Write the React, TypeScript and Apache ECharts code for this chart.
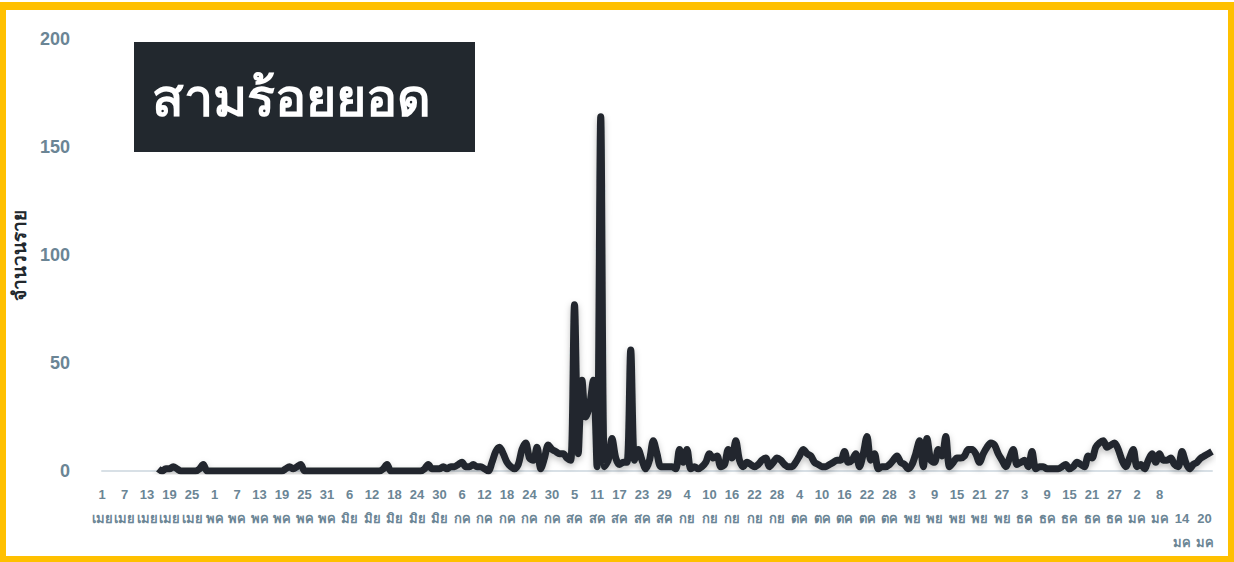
import React, { useEffect, useRef } from "react";
import * as echarts from "echarts";

const START_DAY_OFFSETS = [0, 30, 61, 91, 122, 153, 183, 214, 244, 275]; // first day index of each month
const MONTH_NAMES = ["เมย", "พค", "มิย", "กค", "สค", "กย", "ตค", "พย", "ธค", "มค"];
const MONTH_LENGTHS = [30, 31, 30, 31, 31, 30, 31, 30, 31, 31];
const DAY_COUNT = 297;

const values: (number | null)[] = [
  null, null, null, null, null, null, null, null, null, null, null, null, null, null, null,
  1, 0, 1, 1, 2, 1, 0, 0, 0, 0, 0, 1, 3, 0, 0,
  0, 0, 0, 0, 0, 0, 0, 0, 0, 0, 0, 0, 0, 0, 0,
  0, 0, 0, 0, 1, 2, 1, 2, 3, 0, 0, 0, 0, 0, 0,
  0, 0, 0, 0, 0, 0, 0, 0, 0, 0, 0, 0, 0, 0, 0,
  1, 3, 0, 0, 0, 0, 0, 0, 0, 0, 0, 1, 3, 1, 1,
  1, 2, 1, 2, 2, 3, 4, 2, 2, 3, 2, 2, 1, 0, 4,
  9, 11, 8, 4, 2, 1, 3, 10, 13, 6, 5, 11, 1, 6, 12,
  10, 9, 8, 8, 6, 5, 77, 8, 42, 25, 30, 42, 2, 164, 2,
  5, 15, 6, 3, 4, 4, 56, 5, 10, 5, 1, 5, 14, 8, 2,
  2, 2, 2, 1, 10, 4, 10, 1, 2, 1, 2, 4, 8, 6, 7,
  2, 3, 10, 6, 14, 5, 2, 4, 3, 2, 3, 5, 6, 2, 4,
  6, 5, 3, 2, 2, 4, 7, 10, 8, 7, 4, 3, 2, 2, 3,
  4, 5, 5, 9, 4, 5, 8, 2, 8, 16, 5, 8, 1, 2, 2,
  3, 5, 7, 4, 3, 1, 3, 8, 14, 2, 15, 5, 4, 10, 7,
  16, 2, 4, 6, 6, 7, 10, 10, 8, 4, 8, 11, 13, 12, 8,
  5, 2, 6, 10, 3, 4, 5, 2, 9, 1, 2, 2, 1, 1, 1,
  1, 2, 3, 1, 2, 4, 3, 2, 7, 6, 11, 13, 14, 11, 12,
  13, 10, 5, 2, 6, 10, 2, 3, 1, 5, 8, 4, 8, 5, 5,
  6, 3, 2, 9, 4, 1, 3, 4, 6, 7, 8, 9,
];

const Y_MIN = 0;
const Y_MAX = 200;
const Y_STEP = 50;
const TITLE = "สามร้อยยอด";
const Y_NAME = "จำนวนราย";
const SHIFTED_LABELS = ["14", "20"];

function buildCategories(): string[] {
  const cats: string[] = [];
  for (let i = 0; i < DAY_COUNT; i++) {
    let m = 0;
    for (let k = 0; k < START_DAY_OFFSETS.length; k++) {
      if (i >= START_DAY_OFFSETS[k]) m = k;
    }
    const day = i - START_DAY_OFFSETS[m] + 1;
    if (day <= MONTH_LENGTHS[m]) cats.push(day + " " + MONTH_NAMES[m]);
  }
  return cats;
}

const categories = buildCategories();

export default function App() {
  const ref = useRef<HTMLDivElement>(null);
  useEffect(() => {
    if (!ref.current) return;
    const chart = echarts.init(ref.current, null, { renderer: "svg" });
    const labelColor = "#6b8595";
    const dark = "#22282e";
    const yellow = "#ffc000";
    const font = "Liberation Sans, Arial, sans-serif";
    chart.setOption({
      animation: false,
      backgroundColor: "#ffffff",
      grid: { left: 102, right: 22, top: 39, bottom: 91, containLabel: false },
      xAxis: {
        type: "category",
        data: categories,
        boundaryGap: false,
        axisLine: { show: true, lineStyle: { color: "#d8e0e6", width: 2 } },
        axisTick: { show: false },
        splitLine: { show: false },
        axisLabel: {
          interval: 5,
          margin: 11,
          color: labelColor,
          fontSize: 13,
          fontWeight: "bold",
          fontFamily: font,
          lineHeight: 24,
          formatter: (v: string) => {
            const [d, m] = v.split(" ");
            if (m === "มค" && SHIFTED_LABELS.includes(d)) return "\n" + d + "\n" + m;
            return d + "\n" + m;
          },
        },
      },
      yAxis: {
        type: "value",
        min: Y_MIN,
        max: Y_MAX,
        interval: Y_STEP,
        name: Y_NAME,
        nameLocation: "middle",
        nameGap: 72,
        nameTextStyle: {
          color: dark,
          fontSize: 19,
          fontWeight: "bold",
          fontFamily: font,
        },
        axisLine: { show: false },
        axisTick: { show: false },
        splitLine: { show: false },
        axisLabel: {
          margin: 32,
          color: labelColor,
          fontSize: 18,
          fontWeight: "bold",
          fontFamily: font,
        },
      },
      series: [
        {
          type: "line",
          data: values,
          smooth: 0.3,
          showSymbol: false,
          connectNulls: false,
          lineStyle: {
            color: dark,
            width: 7,
            shadowColor: "rgba(0,0,0,0.25)",
            shadowBlur: 6,
            shadowOffsetY: 3,
          },
          itemStyle: { color: dark },
          z: 3,
        },
      ],
      graphic: [
        { type: "rect", shape: { x: 0, y: 2, width: 1234, height: 8 }, style: { fill: yellow }, z: 100 },
        { type: "rect", shape: { x: 0, y: 2, width: 6, height: 560 }, style: { fill: yellow }, z: 100 },
        { type: "rect", shape: { x: 1228, y: 2, width: 6, height: 560 }, style: { fill: yellow }, z: 100 },
        { type: "rect", shape: { x: 0, y: 556, width: 1234, height: 6 }, style: { fill: yellow }, z: 100 },
        { type: "rect", shape: { x: 134, y: 42, width: 341, height: 110 }, style: { fill: dark }, z: 100 },
        {
          type: "text",
          x: 152,
          y: 98,
          z: 101,
          style: {
            text: TITLE,
            fill: "#ffffff",
            fontSize: 52,
            fontWeight: "bold",
            fontFamily: font,
            verticalAlign: "middle",
            align: "left",
          },
        },
      ],
    });
    return () => chart.dispose();
  }, []);
  return (
    <div style={{ position: "fixed", left: 0, top: 0, width: 1234, height: 562, background: "#fff" }}>
      <div ref={ref} style={{ width: 1234, height: 562 }} />
    </div>
  );
}
